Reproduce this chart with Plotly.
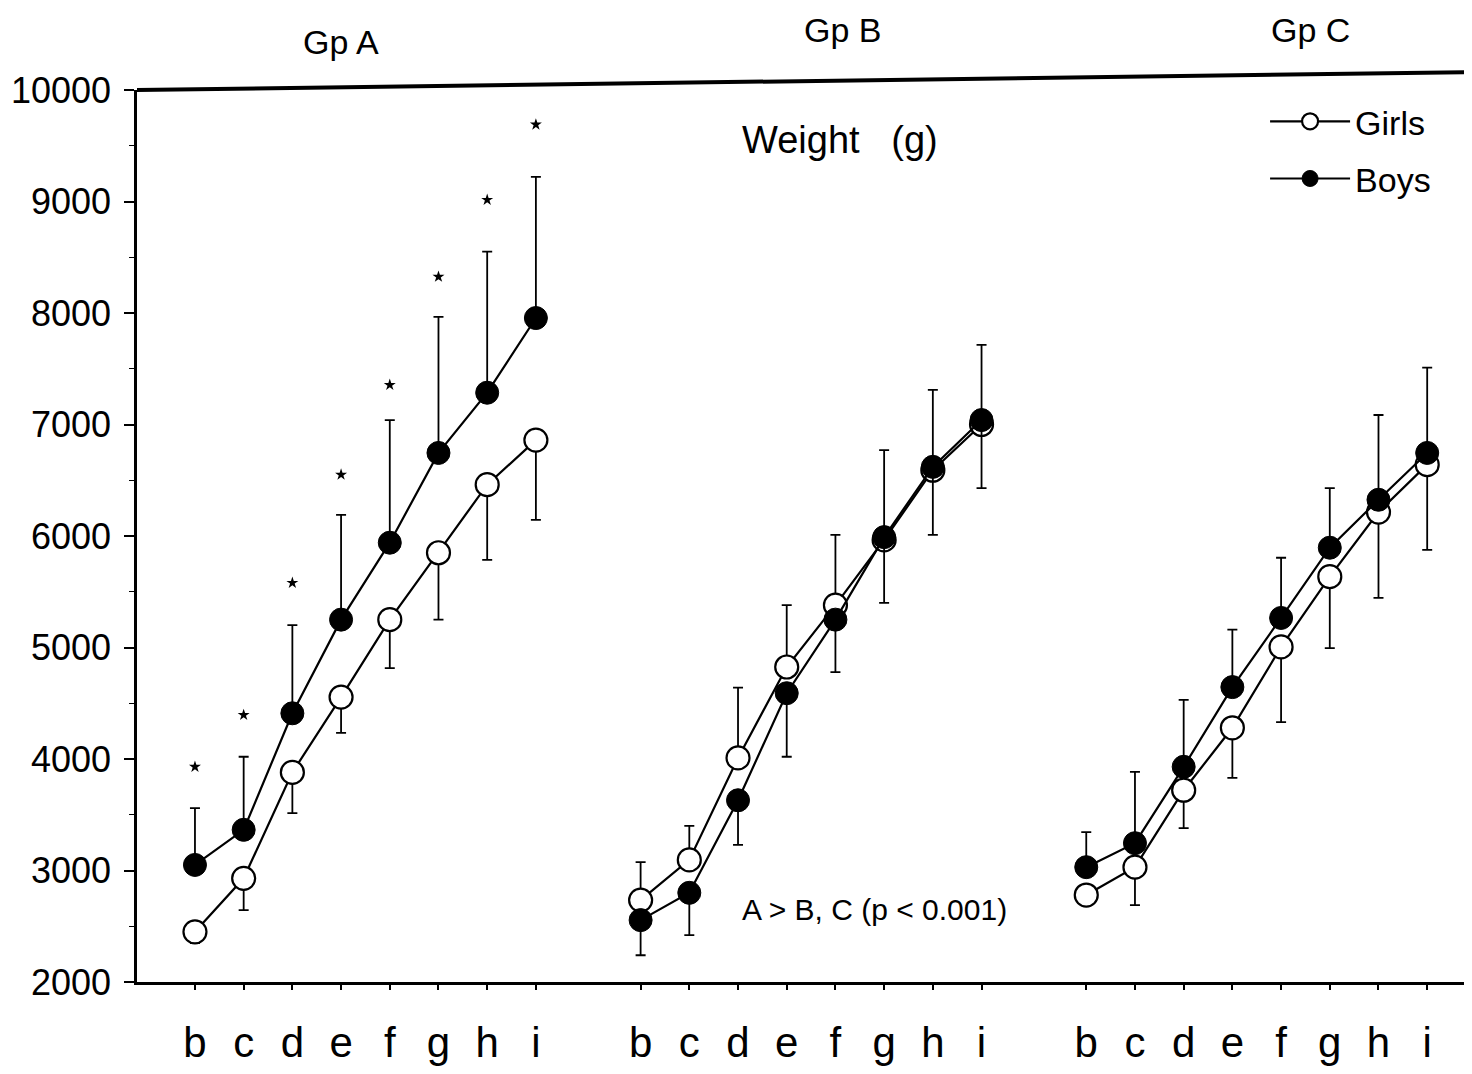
import plotly.graph_objects as go

# ---------------- data ----------------
letters = ['b', 'c', 'd', 'e', 'f', 'g', 'h', 'i']
group_names = ['Gp A', 'Gp B', 'Gp C']

girls_A = [2450, 2930, 3880, 4555, 5250, 5850, 6460, 6860]
boys_A = [3050, 3365, 4410, 5250, 5940, 6745, 7285, 7955]
girls_B = [2735, 3095, 4010, 4825, 5380, 5965, 6590, 7000]
boys_B = [2555, 2800, 3630, 4590, 5250, 5990, 6620, 7040]
girls_C = [2780, 3030, 3720, 4280, 5005, 5635, 6215, 6640]
boys_C = [3030, 3245, 3930, 4645, 5265, 5895, 6325, 6745]

# error bar lengths (g)
boys_up_A = [510, 655, 790, 940, 1100, 1220, 1265, 1265]
girls_down_A = [100, 285, 365, 320, 435, 600, 675, 715]
girls_up_B = [340, 305, 630, 555, 630, 805, 720, 715]
boys_down_B = [315, 380, 400, 570, 470, 590, 610, 610]
boys_up_C = [315, 640, 600, 515, 540, 535, 760, 765]
girls_down_C = [0, 340, 340, 450, 675, 640, 770, 765]
zeros = [0] * 8

# significance markers (*) above Group A boys
sig_A = [3930, 4395, 5580, 6550, 7355, 8325, 9015, 9690]

y_ticks = [2000, 3000, 4000, 5000, 6000, 7000, 8000, 9000, 10000]

# ---------------- layout constants ----------------
GROUP_SPACING = 9.15
FONT = 'Liberation Sans Narrow, Liberation Sans, Arial, sans-serif'

girls = [girls_A, girls_B, girls_C]
boys = [boys_A, boys_B, boys_C]
girls_err = [(zeros, girls_down_A), (girls_up_B, zeros), (zeros, girls_down_C)]
boys_err = [(boys_up_A, zeros), (zeros, boys_down_B), (boys_up_C, zeros)]

def xs(g):
    return [g * GROUP_SPACING + i for i in range(len(letters))]

fig = go.Figure()

for g in range(3):
    up, dn = girls_err[g]
    fig.add_trace(go.Scatter(
        x=xs(g), y=girls[g], mode='lines+markers', name='Girls',
        legendgroup='girls', showlegend=(g == 0),
        line=dict(color='black', width=2.2),
        marker=dict(symbol='circle', size=23, color='white',
                    line=dict(color='black', width=2.2)),
        error_y=dict(type='data', symmetric=False, array=up, arrayminus=dn,
                     color='black', thickness=1.8, width=5),
    ))

for g in range(3):
    up, dn = boys_err[g]
    fig.add_trace(go.Scatter(
        x=xs(g), y=boys[g], mode='lines+markers', name='Boys',
        legendgroup='boys', showlegend=(g == 0),
        line=dict(color='black', width=2.2),
        marker=dict(symbol='circle', size=23, color='black',
                    line=dict(color='black', width=1)),
        error_y=dict(type='data', symmetric=False, array=up, arrayminus=dn,
                     color='black', thickness=1.8, width=5),
    ))

fig.add_trace(go.Scatter(
    x=xs(0), y=sig_A, mode='markers', showlegend=False,
    marker=dict(symbol='star', size=9, color='black'),
))

tickvals = [x for g in range(3) for x in xs(g)]
ticktext = letters * 3

fig.update_layout(
    width=1472, height=1074,
    margin=dict(l=129, r=8, t=82, b=100),
    paper_bgcolor='white', plot_bgcolor='white',
    font=dict(family=FONT, color='black'),
    showlegend=True,
    legend=dict(x=0.845, y=0.997, xanchor='left', yanchor='top',
                bgcolor='rgba(0,0,0,0)', font=dict(size=34, family=FONT),
                itemwidth=80),
    xaxis=dict(range=[-1.19, 26.22], tickvals=tickvals, ticktext=ticktext,
               showgrid=False, zeroline=False, showline=True,
               linecolor='black', linewidth=2.5, ticks='outside',
               ticklen=5, tickcolor='black', tickwidth=1.5, automargin=False,
               tickfont=dict(size=42, family=FONT), ticklabelstandoff=17),
    yaxis=dict(range=[2000, 10000], tickvals=y_ticks,
               ticktext=[str(v) for v in y_ticks],
               showgrid=False, zeroline=False, showline=True,
               linecolor='black', linewidth=2.5, ticks='outside',
               ticklen=10, tickcolor='black', tickwidth=1.5, automargin=False,
               minor=dict(ticks='outside', ticklen=5, dtick=500,
                          tickcolor='black', tickwidth=1.2),
               tickfont=dict(size=36, family=FONT), ticklabelstandoff=6),
)

# thick (slightly skewed) top frame line
fig.add_shape(type='line', xref='paper', yref='paper', x0=0, x1=1,
              y0=1.0, y1=1.02, line=dict(color='black', width=4))

# group titles
title_pos = [(3.0, 1.054), (13.3, 1.067), (22.9, 1.067)]
for name, (tx, ty) in zip(group_names, title_pos):
    fig.add_annotation(x=tx, y=ty, xref='x', yref='paper', text=name,
                       showarrow=False, yanchor='middle',
                       font=dict(size=34, family=FONT))

fig.add_annotation(x=13.24, y=9553, xref='x', yref='y',
                   text='Weight&nbsp;&nbsp;&nbsp;(g)', showarrow=False,
                   yanchor='middle', font=dict(size=38, family=FONT))
fig.add_annotation(x=13.96, y=2646, xref='x', yref='y',
                   text='A &gt; B, C (p &lt; 0.001)', showarrow=False,
                   yanchor='middle', font=dict(size=30, family=FONT))

fig.write_html('out.html')
